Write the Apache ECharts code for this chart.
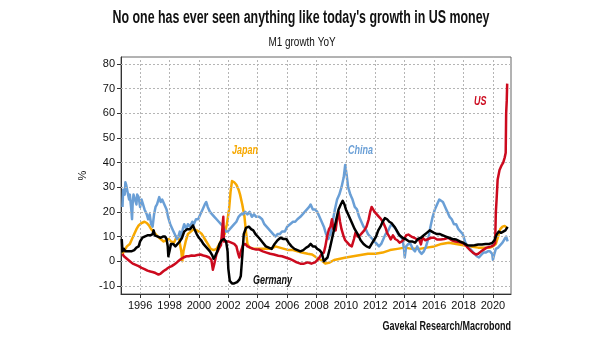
<!DOCTYPE html>
<html><head><meta charset="utf-8">
<script src="https://cdn.jsdelivr.net/npm/echarts@6/dist/echarts.min.js"></script>
<style>html,body{margin:0;padding:0;background:#fff}#c{width:605px;height:341px}</style>
</head><body><div id="c"></div>
<script>
const titleText = "No one has ever seen anything like today's growth in US money";
const subtitleText = "M1 growth YoY";
const sourceText = "Gavekal Research/Macrobond";
const xTicks = [1996,1998,2000,2002,2004,2006,2008,2010,2012,2014,2016,2018,2020];
const yTicks = [-10,0,10,20,30,40,50,60,70,80];

const china = [[1994.8,22],[1994.85,29],[1994.95,27],[1995.0,32],[1995.05,31],[1995.15,28],[1995.25,25],[1995.3,27],[1995.4,21],[1995.45,17],[1995.5,24],[1995.55,27],[1995.65,25],[1995.75,23],[1995.8,27],[1995.9,26],[1996.0,22],[1996.1,25],[1996.2,23],[1996.3,21],[1996.45,19],[1996.55,17],[1996.65,19],[1996.75,15],[1996.85,14],[1996.95,19],[1997.05,22],[1997.15,23],[1997.3,26],[1997.4,24],[1997.5,25],[1997.65,23],[1997.8,21],[1997.9,18],[1998.05,15],[1998.2,13],[1998.35,11],[1998.5,9],[1998.6,10],[1998.7,12],[1998.8,9],[1998.9,13],[1999.0,15],[1999.15,13],[1999.25,15],[1999.4,14],[1999.55,16],[1999.65,15],[1999.8,17],[1999.95,17],[2000.1,19],[2000.25,21],[2000.4,23],[2000.5,24],[2000.6,22],[2000.75,20],[2000.9,19],[2001.05,18],[2001.2,17],[2001.35,16],[2001.5,15],[2001.65,14],[2001.8,12],[2001.95,12],[2002.1,13],[2002.25,14],[2002.4,15],[2002.55,16],[2002.7,18],[2002.85,19],[2003.0,19],[2003.15,20],[2003.3,19],[2003.45,20],[2003.6,18],[2003.75,19],[2003.9,18],[2004.1,18],[2004.3,17],[2004.45,15],[2004.6,14],[2004.75,13],[2004.9,12],[2005.05,11],[2005.2,10],[2005.35,11],[2005.5,11],[2005.65,12],[2005.85,12],[2006.0,14],[2006.2,15],[2006.4,16],[2006.55,16],[2006.7,17],[2006.9,18],[2007.05,19],[2007.2,20],[2007.35,21],[2007.5,22],[2007.6,23],[2007.75,21],[2007.9,21],[2008.05,20],[2008.2,18],[2008.35,16],[2008.5,14],[2008.65,11],[2008.8,9],[2008.95,11],[2009.1,16],[2009.25,21],[2009.4,25],[2009.55,27],[2009.7,30],[2009.85,34],[2009.95,39],[2010.05,35],[2010.15,30],[2010.3,27],[2010.45,25],[2010.6,22],[2010.75,21],[2010.9,18],[2011.05,16],[2011.2,14],[2011.35,13],[2011.5,11],[2011.65,10],[2011.8,9],[2011.95,8],[2012.1,7],[2012.25,6],[2012.4,7],[2012.55,9],[2012.7,11],[2012.85,12],[2013.0,14],[2013.1,15],[2013.25,14],[2013.4,13],[2013.55,11],[2013.7,10],[2013.85,9],[2013.95,5],[2014.0,1.5],[2014.1,6],[2014.25,7],[2014.4,7],[2014.55,5],[2014.7,4],[2014.85,6],[2015.0,4],[2015.15,3],[2015.3,4],[2015.45,6],[2015.6,9],[2015.75,14],[2015.9,18],[2016.05,21],[2016.2,23],[2016.35,25],[2016.45,25],[2016.6,24],[2016.75,22],[2016.9,20],[2017.05,18],[2017.2,17],[2017.35,15],[2017.5,15],[2017.65,13],[2017.8,12],[2017.95,11],[2018.1,8],[2018.25,6],[2018.45,5],[2018.6,4],[2018.75,3],[2018.9,2],[2019.05,1.5],[2019.2,2.5],[2019.35,3.5],[2019.5,3.5],[2019.65,4],[2019.8,4],[2019.95,3],[2020.0,0.5],[2020.1,3],[2020.2,5],[2020.35,5.5],[2020.5,6.5],[2020.65,7.5],[2020.8,9],[2020.9,10],[2021.0,8]];

const japan = [[1994.8,3],[1994.9,4],[1995.1,6],[1995.3,7],[1995.45,9],[1995.6,11],[1995.75,13],[1995.9,14.5],[1996.1,15.5],[1996.3,16],[1996.45,15.5],[1996.6,14.5],[1996.75,13],[1996.9,12],[1997.05,11],[1997.2,10],[1997.4,9],[1997.6,8],[1997.8,8.5],[1997.95,9],[1998.1,8],[1998.3,7.5],[1998.5,10],[1998.65,9],[1998.8,4],[1998.87,0],[1998.95,4],[1999.1,8],[1999.25,11],[1999.45,12],[1999.65,13],[1999.85,12.5],[2000.0,12],[2000.2,11],[2000.4,9],[2000.6,7],[2000.8,5],[2001.0,4.5],[2001.2,5],[2001.4,7],[2001.55,9],[2001.75,11],[2001.9,15],[2002.05,21],[2002.15,28],[2002.25,32.5],[2002.4,32],[2002.55,31],[2002.7,29],[2002.8,27],[2002.95,23],[2003.1,18],[2003.2,12],[2003.3,7],[2003.45,5.5],[2003.7,5],[2004.0,5],[2004.3,5],[2004.6,5],[2004.9,5],[2005.2,6],[2005.5,5.5],[2005.8,5],[2006.1,4.5],[2006.4,4.5],[2006.7,4],[2007.0,3.5],[2007.4,3],[2007.7,2.7],[2008.0,1.5],[2008.3,0.5],[2008.6,-1],[2008.9,-0.5],[2009.2,0.5],[2009.6,1],[2010.0,1.5],[2010.5,2],[2011.0,2.5],[2011.5,3],[2012.0,3],[2012.5,3.5],[2013.0,4.5],[2013.5,5],[2014.0,5.5],[2014.5,5],[2015.0,5],[2015.5,5.5],[2016.0,6],[2016.5,7],[2017.0,7.5],[2017.5,7],[2018.0,6.5],[2018.5,6],[2019.0,5.5],[2019.5,5.5],[2019.8,5.5],[2020.0,6],[2020.2,7],[2020.35,10],[2020.5,13],[2020.65,14],[2020.8,14.3],[2020.95,13.5]];

const germany = [[1994.75,9],[1994.8,4],[1994.9,5],[1995.0,4],[1995.2,4],[1995.4,4],[1995.6,4.5],[1995.75,5.5],[1995.9,6],[1996.0,8],[1996.15,9.5],[1996.3,10],[1996.5,10.5],[1996.7,10.5],[1996.85,11],[1996.92,12.5],[1997.0,10.5],[1997.2,10],[1997.4,9.5],[1997.55,10],[1997.7,10],[1997.8,9],[1997.88,6],[1997.92,2],[1998.0,4],[1998.1,7],[1998.25,7],[1998.4,6],[1998.55,7],[1998.7,8],[1998.85,9.5],[1999.0,12],[1999.2,13],[1999.4,13],[1999.6,14.5],[1999.7,13],[1999.85,11],[2000.0,9.5],[2000.15,8.5],[2000.3,7],[2000.45,6],[2000.6,5],[2000.75,4],[2000.9,2.5],[2001.0,1],[2001.1,2],[2001.25,4],[2001.4,7],[2001.55,8.5],[2001.7,9],[2001.85,8],[2001.95,4],[2002.0,-3],[2002.1,-8],[2002.25,-9],[2002.4,-9],[2002.6,-8.5],[2002.75,-7.5],[2002.85,-6],[2002.95,2],[2003.05,11],[2003.2,13.5],[2003.4,14],[2003.55,13],[2003.7,12.5],[2003.85,11],[2004.0,10],[2004.15,9],[2004.35,7.5],[2004.55,6],[2004.75,5.5],[2004.95,5],[2005.15,7],[2005.35,8.5],[2005.55,9.5],[2005.75,9],[2005.95,9],[2006.1,7.5],[2006.3,6],[2006.5,5],[2006.7,4.5],[2006.9,4],[2007.1,4.5],[2007.3,5.5],[2007.45,6],[2007.6,7],[2007.75,6],[2007.9,6],[2008.05,5],[2008.2,4.5],[2008.35,3.5],[2008.5,0],[2008.6,-0.5],[2008.75,1.5],[2008.9,5],[2009.05,9],[2009.2,13],[2009.35,17],[2009.5,21],[2009.65,23],[2009.78,24.5],[2009.9,23],[2010.0,21],[2010.15,19],[2010.3,17],[2010.45,15],[2010.6,13],[2010.8,11],[2011.0,8.5],[2011.2,7],[2011.4,6],[2011.6,5.5],[2011.75,7],[2011.9,8.5],[2012.05,10],[2012.2,12.5],[2012.35,14],[2012.5,16],[2012.65,17.5],[2012.8,17],[2012.95,16],[2013.1,15.5],[2013.3,14],[2013.5,12],[2013.65,10.5],[2013.85,9.5],[2014.05,9],[2014.3,8],[2014.5,8],[2014.7,7.5],[2014.9,9],[2015.1,9.5],[2015.3,10.5],[2015.5,11.5],[2015.7,12.5],[2015.85,12],[2016.0,11.5],[2016.2,11],[2016.4,11],[2016.6,10.5],[2016.8,10],[2017.0,9.5],[2017.25,9],[2017.5,8.8],[2017.75,8],[2018.0,7.4],[2018.25,6.5],[2018.5,6.4],[2018.75,6.5],[2019.0,6.8],[2019.25,6.8],[2019.5,7],[2019.75,7],[2019.95,7.4],[2020.1,8.5],[2020.25,10.8],[2020.4,12],[2020.55,11.5],[2020.7,12],[2020.85,12.5],[2021.0,13.9]];

const us = [[1994.8,3],[1994.9,2],[1995.1,1],[1995.3,0],[1995.5,-1],[1995.7,-1.5],[1995.9,-2],[1996.1,-2.7],[1996.3,-3.2],[1996.5,-3.8],[1996.7,-4.2],[1996.9,-4.5],[1997.05,-4.8],[1997.25,-5.4],[1997.4,-5],[1997.6,-4],[1997.8,-3.2],[1997.95,-2.5],[1998.15,-2],[1998.3,-1.4],[1998.5,-0.5],[1998.65,0.3],[1998.8,1],[1998.95,1.5],[1999.15,2],[1999.3,2],[1999.5,2.3],[1999.7,2.2],[1999.9,2.5],[2000.1,2.7],[2000.3,2.3],[2000.5,2],[2000.7,1.5],[2000.85,0.5],[2000.95,-3.5],[2001.05,-1],[2001.2,3],[2001.35,5],[2001.5,6.5],[2001.62,7],[2001.66,18],[2001.7,8],[2001.85,8],[2002.0,8],[2002.2,7.5],[2002.4,7],[2002.55,6],[2002.65,3.5],[2002.75,1.5],[2002.85,4],[2003.0,6.5],[2003.15,7],[2003.3,6],[2003.5,5.5],[2003.7,5],[2003.9,4.7],[2004.1,4.7],[2004.35,4],[2004.6,3.5],[2004.85,3],[2005.1,2.7],[2005.4,2.2],[2005.65,2],[2005.9,1.5],[2006.15,1],[2006.4,0.3],[2006.65,-0.5],[2006.9,-1],[2007.15,-1],[2007.4,-0.5],[2007.65,-1],[2007.9,-0.5],[2008.15,1],[2008.35,3],[2008.5,3.5],[2008.6,6],[2008.72,10],[2008.85,13],[2008.95,14],[2009.05,17],[2009.15,13],[2009.3,12.5],[2009.42,18],[2009.5,20],[2009.6,16],[2009.7,13],[2009.85,10],[2009.95,8.5],[2010.1,7.5],[2010.25,6.5],[2010.4,6],[2010.55,9],[2010.65,11.5],[2010.8,10],[2010.95,10.5],[2011.1,11.5],[2011.25,12.5],[2011.4,14],[2011.55,17],[2011.65,20],[2011.75,22],[2011.85,21.5],[2011.95,20],[2012.1,19],[2012.25,18],[2012.4,17],[2012.55,15.5],[2012.7,13.5],[2012.8,11.5],[2012.95,10],[2013.05,8.8],[2013.2,10.5],[2013.35,9],[2013.5,8.5],[2013.65,7.5],[2013.8,8],[2013.95,9],[2014.1,10.5],[2014.25,10.8],[2014.45,10],[2014.65,9.5],[2014.85,8.8],[2015.0,8.5],[2015.1,6.8],[2015.2,9.5],[2015.4,8.5],[2015.6,9],[2015.8,9.5],[2016.0,9.5],[2016.2,8.8],[2016.45,8.8],[2016.7,9],[2016.95,9.5],[2017.2,8.5],[2017.45,8],[2017.7,7.8],[2017.95,7.4],[2018.15,6.5],[2018.3,5.4],[2018.5,4.2],[2018.65,3.4],[2018.85,2.7],[2019.0,3],[2019.2,4],[2019.4,4.8],[2019.55,5.4],[2019.75,5.8],[2019.9,6],[2020.05,6.5],[2020.15,7.4],[2020.2,20],[2020.25,25],[2020.32,33],[2020.45,37],[2020.6,39],[2020.7,40],[2020.8,42],[2020.87,44],[2020.9,60],[2020.94,65],[2020.97,72]];

const seriesNames = ['Japan','China','US','Germany'];
const seriesColors = {Japan:'#f7a800', China:'#6a9fd6', US:'#cc0a1e', Germany:'#000000'};
const seriesData = {Japan:japan, China:china, US:us, Germany:germany};

const FONT = "'Liberation Sans',Arial,sans-serif";
const chart = echarts.init(document.getElementById('c'), null, {renderer:'canvas'});

const grid = {left:121, right:94, top:57, bottom:47};

const lineSeries = seriesNames.map((n, i) => ({
  name: n, type: 'line', data: seriesData[n], showSymbol: false, symbol: 'none',
  z: 3 + i, animation: false,
  lineStyle: {color: seriesColors[n], width: 2.5, join: 'round'}
}));

const gridSeries = {
  type: 'line', data: [], z: 1, silent: true, animation: false,
  markLine: {
    silent: true, symbol: 'none', animation: false,
    label: {show: false},
    lineStyle: {color: '#b5b5b5', type: [2, 2], width: 1},
    data: xTicks.map(v => ({xAxis: v})).concat(yTicks.map(v => ({yAxis: v})))
  }
};

function txt(text, x, y, align, font, fill, sx) {
  return {type: 'text', x: x, y: y, scaleX: sx, z: 100,
    style: {text: text, font: font, fill: fill, textAlign: align, textVerticalAlign: 'middle'}};
}

chart.setOption({
  backgroundColor: '#fff',
  animation: false,
  grid: Object.assign({show: true, borderColor: '#666', borderWidth: 1}, grid),
  xAxis: {
    type: 'value', min: 1994.7, max: 2021.23,
    axisLine: {show: true, onZero: false, lineStyle: {color: '#333', width: 1}},
    axisTick: {show: true, customValues: xTicks, length: 4, lineStyle: {color: '#333'}},
    axisLabel: {customValues: xTicks, formatter: v => String(v), margin: 6,
      fontFamily: FONT, fontSize: 11, color: '#111'},
    splitLine: {show: false}
  },
  yAxis: {
    type: 'value', min: -13.3, max: 82.8,
    name: '%', nameLocation: 'middle', nameGap: 24, nameRotate: 90,
    nameTextStyle: {fontFamily: FONT, fontSize: 11, color: '#111'},
    axisLine: {show: true, onZero: false, lineStyle: {color: '#333', width: 1}},
    axisTick: {show: true, customValues: yTicks, length: 4, lineStyle: {color: '#333'}},
    axisLabel: {customValues: yTicks, formatter: v => String(v), margin: 6,
      fontFamily: FONT, fontSize: 11, color: '#111'},
    splitLine: {show: false}
  },
  series: [gridSeries].concat(lineSeries),
  graphic: [
    txt(titleText, 301, 18, 'center', "bold 18px " + FONT, '#111', 0.69),
    txt(subtitleText, 302, 43, 'center', "12px " + FONT, '#111', 0.83),
    txt(sourceText, 511, 327, 'right', "bold 12px " + FONT, '#111', 0.75),
    txt('Japan', 232, 151, 'left', "italic bold 12px " + FONT, seriesColors.Japan, 0.75),
    txt('China', 348, 151, 'left', "italic bold 12px " + FONT, seriesColors.China, 0.75),
    txt('US', 474, 102, 'left', "italic bold 12px " + FONT, seriesColors.US, 0.75),
    txt('Germany', 253, 281, 'left', "italic bold 12px " + FONT, '#111', 0.75)
  ]
});
</script></body></html>
